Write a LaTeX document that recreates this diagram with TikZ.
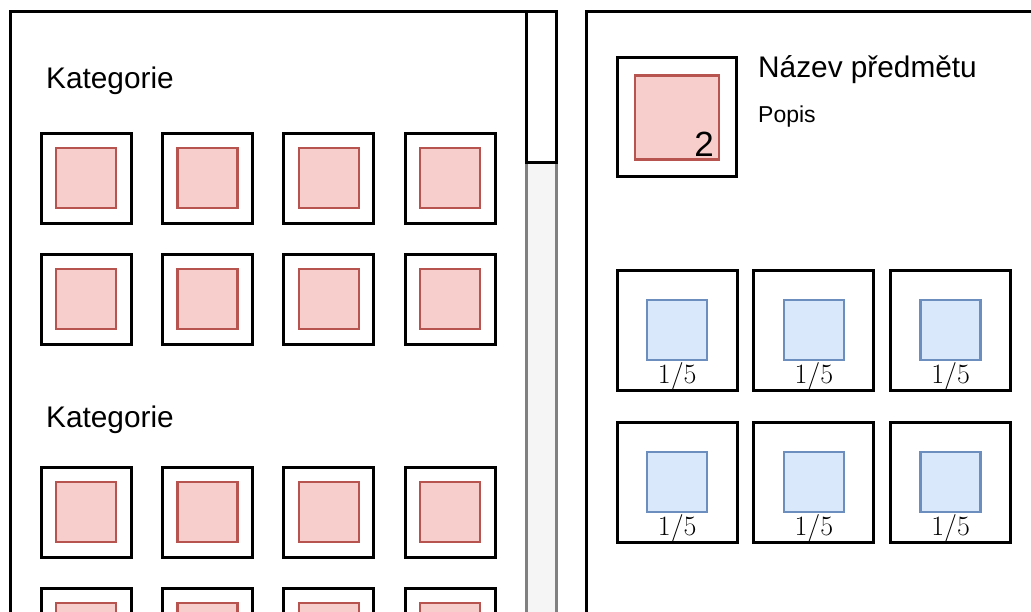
\documentclass[tikz,border=0pt]{standalone}
\usepackage{fontspec}
\setmainfont{Liberation Sans}
\newfontfamily\lmrfont{Latin Modern Roman}
\usetikzlibrary{matrix}

\definecolor{redfill}{HTML}{F8CECC}
\definecolor{redline}{HTML}{B85450}
\definecolor{bluefill}{HTML}{DAE8FC}
\definecolor{blueline}{HTML}{6C8EBF}
\definecolor{trackfill}{HTML}{F5F5F5}
\definecolor{trackline}{HTML}{808080}

\tikzset{
  panel/.style={draw=black, line width=3pt},
  tile/.style={rectangle, draw=black, line width=3pt, fill=white,
               inner sep=0pt, outer sep=0pt, anchor=center},
  redsq/.style={rectangle, fill=redfill, draw=redline, line width=2.5pt,
                minimum size=60pt, inner sep=0pt},
  bluesq/.style={rectangle, fill=bluefill, draw=blueline, line width=2.5pt,
                 minimum size=60pt, inner sep=0pt},
  title/.style={inner sep=0pt, anchor=base west, font=\fontsize{29.8}{35}\selectfont},
  desc/.style={inner sep=0pt, anchor=base west, font=\fontsize{23}{28}\selectfont},
  count/.style={inner sep=0pt, anchor=base east, font=\fontsize{35}{40}\selectfont},
  frac/.style={inner sep=0pt, anchor=base, font=\lmrfont\fontsize{28}{32}\selectfont},
}

\begin{document}
\begin{tikzpicture}[x=1pt, y=-1pt]
\useasboundingbox (0,0) rectangle (1031,612);
\clip (0,0) rectangle (1031,612);

% panels and scrollbar
\draw[panel] (10,12) rectangle (526,640);
\draw[panel] (586,12) rectangle (1060,640);
\filldraw[trackfill, draw=trackline, line width=3pt] (526,163) rectangle (556,640);
\filldraw[panel, fill=white] (526,12) rectangle (556,163);

% categories
\node[title] (cat1-title) at (46,89) {Kategorie};
\matrix [matrix of nodes, nodes in empty cells,
         nodes={tile, minimum size=90pt},
         column sep=28.3pt, row sep=28pt,
         inner sep=0pt, anchor=north west] (cat1) at (39.5,131.5)
{
 & & & \\
 & & & \\
};
\node[redsq] (cat1-img-1-1) at (cat1-1-1) {};
\node[redsq] (cat1-img-1-2) at (cat1-1-2) {};
\node[redsq] (cat1-img-1-3) at (cat1-1-3) {};
\node[redsq] (cat1-img-1-4) at (cat1-1-4) {};
\node[redsq] (cat1-img-2-1) at (cat1-2-1) {};
\node[redsq] (cat1-img-2-2) at (cat1-2-2) {};
\node[redsq] (cat1-img-2-3) at (cat1-2-3) {};
\node[redsq] (cat1-img-2-4) at (cat1-2-4) {};
%%%
\node[title] (cat2-title) at (46,427) {Kategorie};
\matrix [matrix of nodes, nodes in empty cells,
         nodes={tile, minimum size=90pt},
         column sep=28.3pt, row sep=28pt,
         inner sep=0pt, anchor=north west] (cat2) at (39.5,465.5)
{
 & & & \\
 & & & \\
};
\node[redsq] (cat2-img-1-1) at (cat2-1-1) {};
\node[redsq] (cat2-img-1-2) at (cat2-1-2) {};
\node[redsq] (cat2-img-1-3) at (cat2-1-3) {};
\node[redsq] (cat2-img-1-4) at (cat2-1-4) {};
\node[redsq] (cat2-img-2-1) at (cat2-2-1) {};
\node[redsq] (cat2-img-2-2) at (cat2-2-2) {};
\node[redsq] (cat2-img-2-3) at (cat2-2-3) {};
\node[redsq] (cat2-img-2-4) at (cat2-2-4) {};

% detail of the subject
\node[tile, minimum size=119pt] (prod) at (677,117.5) {};
\node[redsq, minimum size=84pt] (prod-img) at (prod) {};
\node[count] (prod-count) at (714,157) {2};
\node[title] (prod-name) at (758,78) {Název předmětu};
\node[desc] (prod-desc) at (758,123) {Popis};

\matrix [matrix of nodes, nodes in empty cells,
         nodes={tile, minimum size=120pt},
         column sep=13.7pt, row sep=29pt,
         inner sep=0pt, anchor=north west] (res) at (615.5,268.5)
{
 & & \\
 & & \\
};
\node[bluesq] (res-img-1-1) at (res-1-1) {};
\node[bluesq] (res-img-1-2) at (res-1-2) {};
\node[bluesq] (res-img-1-3) at (res-1-3) {};
\node[bluesq] (res-img-2-1) at (res-2-1) {};
\node[bluesq] (res-img-2-2) at (res-2-2) {};
\node[bluesq] (res-img-2-3) at (res-2-3) {};
%%%
\node[frac] (res-frac-1-1) at ([yshift=-53pt]res-1-1.center) {1/5};
\node[frac] (res-frac-1-2) at ([yshift=-53pt]res-1-2.center) {1/5};
\node[frac] (res-frac-1-3) at ([yshift=-53pt]res-1-3.center) {1/5};
\node[frac] (res-frac-2-1) at ([yshift=-53pt]res-2-1.center) {1/5};
\node[frac] (res-frac-2-2) at ([yshift=-53pt]res-2-2.center) {1/5};
\node[frac] (res-frac-2-3) at ([yshift=-53pt]res-2-3.center) {1/5};
\end{tikzpicture}
\end{document}
